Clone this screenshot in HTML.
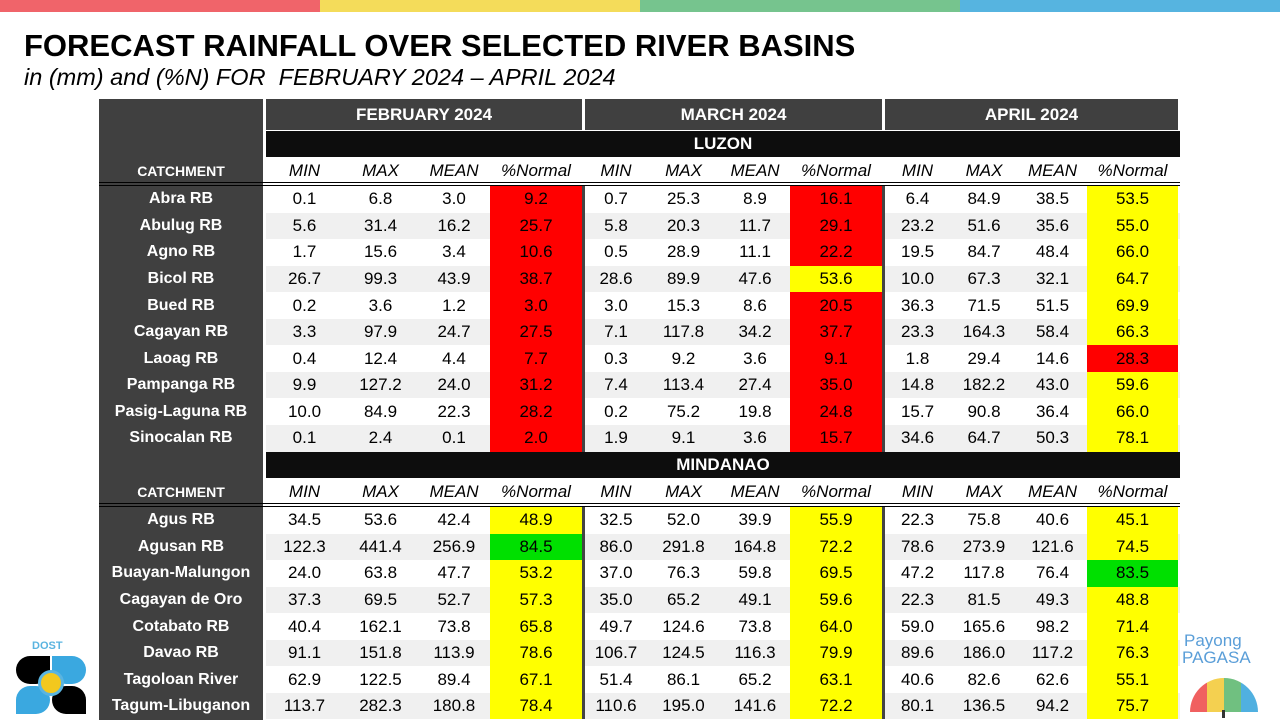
<!DOCTYPE html>
<html><head><meta charset="utf-8"><style>
body{margin:0;width:1280px;height:720px;overflow:hidden;background:#fff;font-family:"Liberation Sans",Arial,sans-serif;position:relative}
.a{position:absolute;box-sizing:border-box}
.c{display:flex;align-items:center;justify-content:center;white-space:nowrap}
</style></head><body>
<div class="a" style="left:0;top:0;width:320px;height:12px;background:#f0646a"></div>
<div class="a" style="left:320px;top:0;width:320px;height:12px;background:#f4dc5a"></div>
<div class="a" style="left:640px;top:0;width:320px;height:12px;background:#76c48e"></div>
<div class="a" style="left:960px;top:0;width:320px;height:12px;background:#56b4e0"></div>
<div class="a" style="left:24px;top:28px;font-size:31px;font-weight:bold;color:#000">FORECAST RAINFALL OVER SELECTED RIVER BASINS</div>
<div class="a" style="left:24px;top:64px;font-size:23.5px;font-style:italic;color:#000">in (mm) and (%N) FOR&nbsp; FEBRUARY 2024 – APRIL 2024</div>
<div id="tbl"></div>
<div class="a" style="left:14px;top:640px;width:76px;height:74px">
<div class="a" style="left:18px;top:0;font-size:11px;font-weight:bold;color:#5ab4e0">DOST</div>
<div class="a" style="left:2px;top:16px;width:34px;height:28px;background:#000;border-radius:14px 0 14px 14px"></div>
<div class="a" style="left:38px;top:16px;width:34px;height:28px;background:#3aa8e0;border-radius:0 14px 14px 14px"></div>
<div class="a" style="left:2px;top:46px;width:34px;height:28px;background:#3aa8e0;border-radius:14px 14px 14px 0"></div>
<div class="a" style="left:38px;top:46px;width:34px;height:28px;background:#000;border-radius:14px 14px 0 14px"></div>
<div class="a" style="left:24px;top:30px;width:26px;height:26px;background:#f2c81e;border-radius:50%;border:3px solid #5ab4e0"></div>
</div>
<div class="a" style="left:1182px;top:632px;width:98px;height:86px;color:#5a9ed8;font-size:17px;line-height:17px">
<div class="a" style="left:2px;top:0">Payong</div>
<div class="a" style="left:0;top:17px">PAGASA</div>
<div class="a" style="left:8px;top:46px;width:68px;height:34px;border-radius:34px 34px 0 0;background:linear-gradient(90deg,#f06060 0 25%,#f4d050 25% 50%,#70c080 50% 75%,#50b0e0 75%)"></div>
<div class="a" style="left:40px;top:78px;width:3px;height:8px;background:#333"></div>
</div>
<script>
const names1=["Abra RB","Abulug RB","Agno RB","Bicol RB","Bued RB","Cagayan RB","Laoag RB","Pampanga RB","Pasig-Laguna RB","Sinocalan RB"];
const feb1=[[0.1,6.8,3.0,9.2],[5.6,31.4,16.2,25.7],[1.7,15.6,3.4,10.6],[26.7,99.3,43.9,38.7],[0.2,3.6,1.2,3.0],[3.3,97.9,24.7,27.5],[0.4,12.4,4.4,7.7],[9.9,127.2,24.0,31.2],[10.0,84.9,22.3,28.2],[0.1,2.4,0.1,2.0]];
const mar1=[[0.7,25.3,8.9,16.1],[5.8,20.3,11.7,29.1],[0.5,28.9,11.1,22.2],[28.6,89.9,47.6,53.6],[3.0,15.3,8.6,20.5],[7.1,117.8,34.2,37.7],[0.3,9.2,3.6,9.1],[7.4,113.4,27.4,35.0],[0.2,75.2,19.8,24.8],[1.9,9.1,3.6,15.7]];
const apr1=[[6.4,84.9,38.5,53.5],[23.2,51.6,35.6,55.0],[19.5,84.7,48.4,66.0],[10.0,67.3,32.1,64.7],[36.3,71.5,51.5,69.9],[23.3,164.3,58.4,66.3],[1.8,29.4,14.6,28.3],[14.8,182.2,43.0,59.6],[15.7,90.8,36.4,66.0],[34.6,64.7,50.3,78.1]];
const names2=["Agus RB","Agusan RB","Buayan-Malungon","Cagayan de Oro","Cotabato RB","Davao RB","Tagoloan River","Tagum-Libuganon"];
const feb2=[[34.5,53.6,42.4,48.9],[122.3,441.4,256.9,84.5],[24.0,63.8,47.7,53.2],[37.3,69.5,52.7,57.3],[40.4,162.1,73.8,65.8],[91.1,151.8,113.9,78.6],[62.9,122.5,89.4,67.1],[113.7,282.3,180.8,78.4]];
const mar2=[[32.5,52.0,39.9,55.9],[86.0,291.8,164.8,72.2],[37.0,76.3,59.8,69.5],[35.0,65.2,49.1,59.6],[49.7,124.6,73.8,64.0],[106.7,124.5,116.3,79.9],[51.4,86.1,65.2,63.1],[110.6,195.0,141.6,72.2]];
const apr2=[[22.3,75.8,40.6,45.1],[78.6,273.9,121.6,74.5],[47.2,117.8,76.4,83.5],[22.3,81.5,49.3,48.8],[59.0,165.6,98.2,71.4],[89.6,186.0,117.2,76.3],[40.6,82.6,62.6,55.1],[80.1,136.5,94.2,75.7]];
const months=["FEBRUARY 2024","MARCH 2024","APRIL 2024"];
const colHeads=["MIN","MAX","MEAN","%Normal"];

const T=document.getElementById('tbl');
const monthX=[[266,343,418,490,582],[585,647,720,790,882],[885,950,1018,1087,1178]];
const RH=26.56;
function box(x,y,w,h,st,txt,name){
  const d=document.createElement('div');
  d.className='a c';
  d.style.cssText+=`left:${x}px;top:${y}px;width:${w}px;height:${h}px;`+st;
  if(txt!==undefined)d.textContent=txt;
  
  
  T.appendChild(d);return d;
}
function pctColor(v){return v<=40?'#ff0000':(v<=80?'#ffff00':'#00e000');}
box(99,99,164,621,'background:#404040','', 'catchment-column');
months.forEach((m,i)=>{
  const x0=monthX[i][0],x1=monthX[i][4];
  box(x0,99,x1-x0,31,'background:#404040;color:#fff;font-weight:bold;font-size:17px',m,'month-header');
});
function section(label,y0,names,data,key){
  box(266,y0,914,26,'background:#0d0d0d;color:#fff;font-weight:bold;font-size:17px',label,key+'-region-header');
  const hy=y0+27;
  box(99,hy,164,26,'color:#fff;font-weight:bold;font-size:14px','CATCHMENT','catchment-header');
  box(99,hy+24,1081,1,'background:#000','', 'header-rule');
  box(99,hy+27,1081,1,'background:#000','', 'header-rule');
  for(let m=0;m<3;m++){
    for(let c=0;c<4;c++){
      const xa=monthX[m][c],xb=monthX[m][c+1];
      box(xa,hy,xb-xa,26,'font-style:italic;font-size:17px;color:#000',colHeads[c],'column-header-'+colHeads[c].toLowerCase().replace('%',''));
    }
  }
  const ry=hy+28;
  names.forEach((n,r)=>{
    const y=ry+r*RH;
    box(266,y,914,RH,'background:'+(r%2?'#f0f0f0':'#fff'),'', 'row-bg');
    box(99,y,164,RH,'color:#fff;font-weight:bold;font-size:16px',n,'catchment-name');
    for(let m=0;m<3;m++){
      const vals=data[m][r];
      for(let c=0;c<4;c++){
        const xa=monthX[m][c],xb=monthX[m][c+1];
        const st='font-size:17px;color:#000;'+(c==3?'background:'+pctColor(vals[3])+';':'');
        box(xa,y,xb-xa,RH,st,vals[c].toFixed(1),c==3?'percent-normal-cell':'value-cell');
      }
    }
  });
  [582,882].forEach(x=>box(x,ry,3,names.length*RH,'background:#444','', 'month-separator'));
  return ry+names.length*RH;
}
const end1=section('LUZON',131,names1,[feb1,mar1,apr1],'luzon');
section('MINDANAO',Math.round(end1),names2,[feb2,mar2,apr2],'mindanao');
[263,582,882].forEach(x=>box(x,99,3,32,'background:#fff','', 'header-gap'));
</script>
</body></html>
